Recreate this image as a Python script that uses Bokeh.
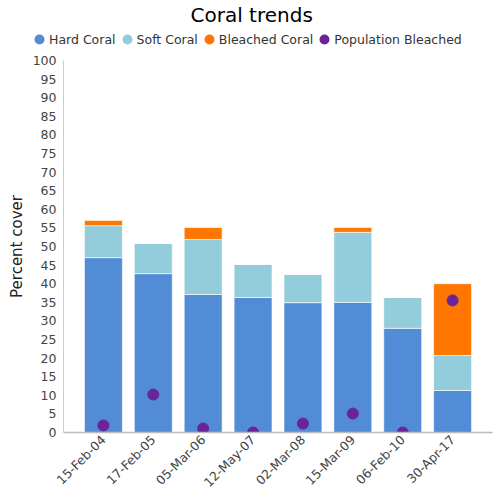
import math
from bokeh.plotting import figure
from bokeh.layouts import column
from bokeh.models import (ColumnDataSource, FactorRange, Range1d, FixedTicker,
                          Legend, LegendItem, Title)
from bokeh.embed import file_html
from bokeh.resources import INLINE

dates = ["15-Feb-04", "17-Feb-05", "05-Mar-06", "12-May-07",
         "02-Mar-08", "15-Mar-09", "06-Feb-10", "30-Apr-17"]
hard_coral = [47.0, 42.7, 37.1, 36.3, 34.9, 35.0, 28.0, 11.3]
soft_coral = [8.6, 8.1, 14.8, 8.9, 7.6, 18.8, 8.3, 9.4]
bleached_coral = [1.4, 0.0, 3.2, 0.0, 0.0, 1.3, 0.0, 19.3]
population_bleached = [1.9, 10.2, 1.1, 0.0, 2.4, 5.1, 0.0, 35.5]
y_ticks = list(range(0, 101, 5))

series = ["Hard Coral", "Soft Coral", "Bleached Coral"]
colors = ["#528cd6", "#93cddb", "#ff7700"]
pop_color = "#6b2399"
FONT = "DejaVu Sans"

source = ColumnDataSource(dict(date=dates, hard=hard_coral, soft=soft_coral,
                               bleached=bleached_coral, pop=population_bleached))

HEAD_H = 52

# ---- header: title + legend ----
head = figure(width=500, height=HEAD_H, x_range=Range1d(0, 1), y_range=Range1d(0, 1),
              min_border_left=0, min_border_right=0, min_border_top=0,
              min_border_bottom=0, x_axis_location=None, y_axis_location=None,
              output_backend="svg", toolbar_location=None)
head.frame_align = False
head.xgrid.grid_line_color = None
head.ygrid.grid_line_color = None
head.outline_line_color = None
head.title = Title(text="Coral trends", align="left", offset=190, standoff=0,
                   text_font=FONT, text_font_size="20px",
                   text_font_style="normal", text_color="#000000")
labels = series + ["Population Bleached"]
leg_rs = [head.scatter(x=[-5], y=[-5], size=10, color=c, line_width=2)
          for c in colors + [pop_color]]
legend = Legend(items=[LegendItem(label=l, renderers=[r]) for l, r in zip(labels, leg_rs)],
                orientation="horizontal", location=(29, 3),
                label_text_font=FONT, label_text_font_size="12.5px",
                label_text_color="#333333", glyph_width=20, glyph_height=20,
                label_standoff=0, spacing=1, padding=0, margin=0,
                border_line_color=None, background_fill_alpha=0)
head.add_layout(legend, "center")

# ---- main chart ----
p = figure(x_range=FactorRange(*dates, range_padding=0.075),
           y_range=Range1d(0, 100),
           width=500, height=500 - HEAD_H,
           min_border_left=63, min_border_right=8, min_border_top=60 - HEAD_H,
           min_border_bottom=68,
           output_backend="svg", toolbar_location=None)

p.vbar_stack(["hard", "soft", "bleached"], x="date", width=0.76, color=colors,
             line_color="white", line_alpha=0.6, line_width=1, source=source)
p.scatter(x="date", y="pop", size=11, color=pop_color, source=source)

p.yaxis.ticker = FixedTicker(ticks=y_ticks)
p.yaxis.axis_label = "Percent cover"
p.yaxis.axis_label_text_font = FONT
p.yaxis.axis_label_text_font_size = "15px"
p.yaxis.axis_label_text_font_style = "normal"
p.yaxis.axis_label_text_color = "#222222"
p.yaxis.axis_label_standoff = 4
for ax in (p.xaxis, p.yaxis):
    ax.major_tick_line_color = None
    ax.minor_tick_line_color = None
    ax.major_tick_out = 0
    ax.minor_tick_out = 0
    ax.major_label_text_font = FONT
    ax.major_label_text_font_size = "12.5px"
    ax.major_label_text_color = "#444444"
p.yaxis.axis_line_color = "#cccccc"
p.xaxis.axis_line_color = "#bbbbbb"
p.xaxis.axis_line_width = 1.5
p.xaxis.major_label_orientation = math.pi / 4
p.yaxis.major_label_standoff = 7
p.xaxis.major_label_standoff = 5
p.xgrid.grid_line_color = None
p.ygrid.grid_line_color = None
p.outline_line_color = None

layout = column(head, p, spacing=0)
open("out.html", "w").write(file_html(layout, INLINE))
